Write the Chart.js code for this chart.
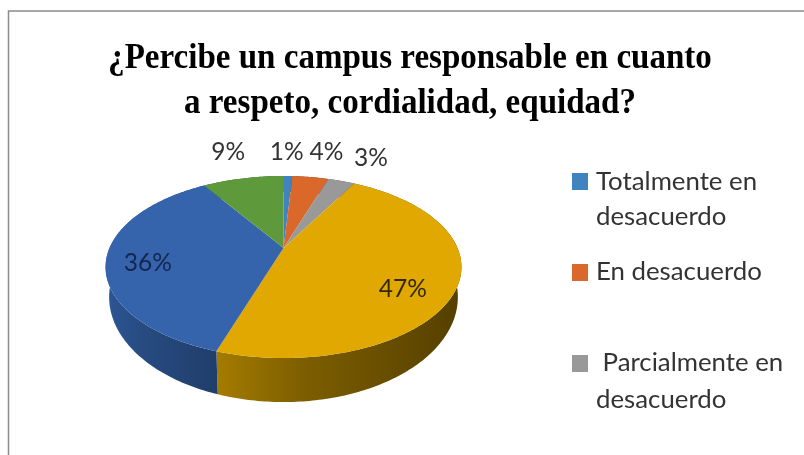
<!DOCTYPE html>
<html>
<head>
<meta charset="utf-8">
<style>html,body{margin:0;padding:0;background:#fff}canvas{display:block}</style>
<script src="https://cdn.jsdelivr.net/npm/chart.js@4"></script>
</head>
<body>
<canvas id="c" width="804" height="455"></canvas>
<script>
const titleLines = ['¿Percibe un campus responsable en cuanto', 'a respeto, cordialidad, equidad?'];
const categories = ['Totalmente en desacuerdo', 'En desacuerdo', 'Parcialmente en desacuerdo', '', '', ''];
const percentages = [1, 4, 3, 47, 36, 9];
const sliceColors = ['#3f83bf', '#d9682a', '#999999', '#e0a800', '#3564ad', '#5e9a3b'];
const legendLines = [['Totalmente en', 'desacuerdo'], ['En desacuerdo'], [' Parcialmente en', 'desacuerdo']];

// page furniture
const LABEL_FONT = '24.5px Lato';
const LEGEND_FONT = '25.8px Lato';
const INK = '#333333';
const legendBoxY = [173, 264, 355];
const legendTextY = [[182, 217], [272], [363, 400]];
const labelRadius = [1.18, 1.18, 1.18, 0.72, 0.72, 1.18];
const labelNudge = [[-2, -14], [12, -15], [21, -13], [-3, 15], [-9, 7], [-9, -16]];
const labelColors = [INK, INK, INK, '#33290a', '#14264f', INK];
const wallShade = [[.7, .5], [.7, .5], [.7, .5], [.74, .38], [.86, .62], [.7, .5]];
const TITLE_SQUEEZE = 0.918;

// perspective of the tilted disc, in units of the library's outer radius
const P = { k: 0.209, ax: 0.9775, by: 0.489 };
// floor outline of the disc relative to its top outline
const FLOOR = { sx: 0.98, sy: 1.154, ellipseCy: 19 / 178, floorCy: 49 / 178 };

function project(arc, theta, r) {
  const x = Math.sin(theta) * r, y = Math.cos(theta) * r, d = 1 + P.k * y, R = arc.outerRadius;
  return { x: arc.x + R * P.ax * x / d, y: arc.y - R * P.by * y / d };
}
function floorOf(arc, p) {
  const R = arc.outerRadius;
  return {
    x: arc.x + (p.x - arc.x) * FLOOR.sx,
    y: arc.y + FLOOR.floorCy * R + (p.y - arc.y - FLOOR.ellipseCy * R) * FLOOR.sy
  };
}
function rim(arc) {
  const a = arc.startAngle + Math.PI / 2, b = arc.endAngle + Math.PI / 2;
  const n = Math.max(2, Math.ceil((b - a) / 0.015)), pts = [];
  for (let i = 0; i <= n; i++) pts.push(project(arc, a + (b - a) * i / n, 1));
  return pts;
}
function shade(hex, f) {
  const v = parseInt(hex.slice(1), 16);
  return `rgb(${(v >> 16) * f | 0},${((v >> 8) & 255) * f | 0},${(v & 255) * f | 0})`;
}

const disc = {
  id: 'disc',
  afterLayout(chart) {
    const tb = chart.titleBlock;
    tb.left = 8;
    tb.right = 812;
    if (!tb._squeezed) {
      const draw = tb.draw;
      tb.draw = function () {
        const c = chart.ctx, mid = (tb.left + tb.right) / 2;
        c.save();
        c.translate(mid, 0);
        c.scale(TITLE_SQUEEZE, 1);
        c.translate(-mid, 0);
        draw.call(tb);
        c.restore();
      };
      tb._squeezed = true;
    }
  },
  beforeDraw(chart) {
    const c = chart.ctx;
    c.save();
    c.fillStyle = '#fff';
    c.fillRect(0, 0, chart.width, chart.height);
    c.strokeStyle = '#8c8c8c';
    c.lineWidth = 1.5;
    c.beginPath();
    c.moveTo(8.5, chart.height);
    c.lineTo(8.5, 11);
    c.lineTo(chart.width, 11);
    c.stroke();
    c.restore();
  },
  beforeDatasetDraw() { return false; },
  afterDatasetsDraw(chart) {
    const c = chart.ctx, arcs = chart.getDatasetMeta(0).data;
    c.save();
    arcs.forEach((arc, i) => {
      const top = rim(arc), bottom = top.map(p => floorOf(arc, p));
      const xs = top.concat(bottom).map(p => p.x);
      const g = c.createLinearGradient(Math.min(...xs), 0, Math.max(...xs), 0);
      g.addColorStop(0, shade(sliceColors[i], wallShade[i][0]));
      g.addColorStop(.35, shade(sliceColors[i], (wallShade[i][0] + wallShade[i][1]) / 2));
      g.addColorStop(1, shade(sliceColors[i], wallShade[i][1]));
      c.fillStyle = g;
      c.beginPath();
      top.forEach((p, j) => j ? c.lineTo(p.x, p.y) : c.moveTo(p.x, p.y));
      bottom.reverse().forEach(p => c.lineTo(p.x, p.y));
      c.closePath();
      c.fill();
    });
    arcs.forEach((arc, i) => {
      c.fillStyle = sliceColors[i];
      c.beginPath();
      c.moveTo(arc.x, arc.y);
      rim(arc).forEach(p => c.lineTo(p.x, p.y));
      c.closePath();
      c.fill();
    });
    c.font = LABEL_FONT;
    c.textAlign = 'center';
    c.textBaseline = 'middle';
    arcs.forEach((arc, i) => {
      const mid = (arc.startAngle + arc.endAngle) / 2 + Math.PI / 2;
      const p = project(arc, mid, labelRadius[i]);
      c.fillStyle = labelColors[i];
      c.fillText(percentages[i] + '%', p.x + labelNudge[i][0], p.y + labelNudge[i][1]);
    });
    c.font = LEGEND_FONT;
    c.textAlign = 'left';
    legendLines.forEach((lines, i) => {
      c.fillStyle = sliceColors[i];
      c.fillRect(572, legendBoxY[i], 16, 17);
      c.fillStyle = INK;
      lines.forEach((t, j) => c.fillText(t, 596, legendTextY[i][j]));
    });
    c.restore();
  }
};

new Chart(document.getElementById('c'), {
  type: 'pie',
  data: {
    labels: categories,
    datasets: [{ data: percentages, backgroundColor: sliceColors, borderWidth: 0 }]
  },
  options: {
    responsive: false,
    animation: false,
    events: [],
    layout: { padding: { left: 105.5, right: 342.5, top: 0, bottom: 29 } },
    plugins: {
      legend: { display: false },
      tooltip: { enabled: false },
      title: {
        display: true,
        text: titleLines,
        color: '#000',
        font: { family: '"Liberation Serif"', size: 36, weight: 'bold', lineHeight: 45 / 36 },
        padding: { top: 36, bottom: -56 }
      }
    }
  },
  plugins: [disc]
});
</script>
</body>
</html>
